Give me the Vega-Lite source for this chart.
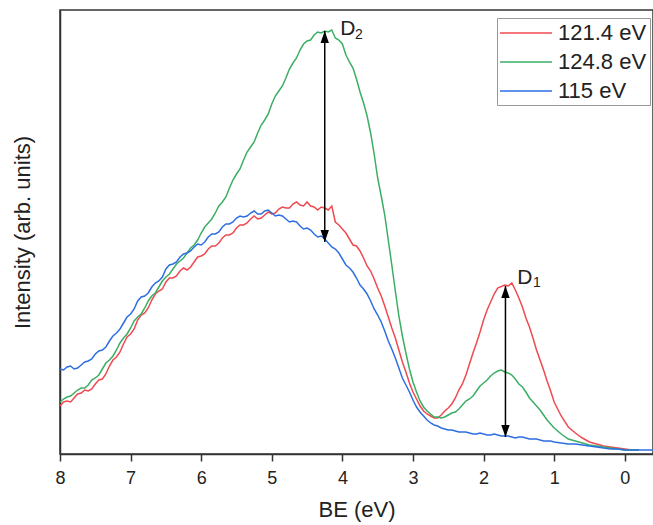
{
  "$schema": "https://vega.github.io/schema/vega-lite/v6.json",
  "width": 593,
  "height": 444,
  "autosize": "none",
  "padding": {"left": 60, "top": 10, "right": 0, "bottom": 71},
  "background": "white",
  "config": {
    "font": "Liberation Sans",
    "view": {"stroke": "#333", "strokeWidth": 1.5}
  },
  "datasets": {
    "spectra": [
      {"series":"121.4 eV","be":8.0,"intensity":48},{"series":"121.4 eV","be":7.9,"intensity":53},{"series":"121.4 eV","be":7.8,"intensity":56},{"series":"121.4 eV","be":7.7,"intensity":61},{"series":"121.4 eV","be":7.6,"intensity":63},{"series":"121.4 eV","be":7.5,"intensity":70},{"series":"121.4 eV","be":7.4,"intensity":75},{"series":"121.4 eV","be":7.3,"intensity":88},{"series":"121.4 eV","be":7.2,"intensity":97},{"series":"121.4 eV","be":7.1,"intensity":110},{"series":"121.4 eV","be":7.0,"intensity":120},{"series":"121.4 eV","be":6.9,"intensity":134},{"series":"121.4 eV","be":6.8,"intensity":141},{"series":"121.4 eV","be":6.7,"intensity":154},{"series":"121.4 eV","be":6.6,"intensity":163},{"series":"121.4 eV","be":6.5,"intensity":172},{"series":"121.4 eV","be":6.4,"intensity":176},{"series":"121.4 eV","be":6.3,"intensity":183},{"series":"121.4 eV","be":6.2,"intensity":184},{"series":"121.4 eV","be":6.1,"intensity":192},{"series":"121.4 eV","be":6.0,"intensity":198},{"series":"121.4 eV","be":5.9,"intensity":205},{"series":"121.4 eV","be":5.8,"intensity":208},{"series":"121.4 eV","be":5.7,"intensity":216},{"series":"121.4 eV","be":5.6,"intensity":219},{"series":"121.4 eV","be":5.5,"intensity":226},{"series":"121.4 eV","be":5.4,"intensity":229},{"series":"121.4 eV","be":5.3,"intensity":235},{"series":"121.4 eV","be":5.2,"intensity":235},{"series":"121.4 eV","be":5.1,"intensity":239},{"series":"121.4 eV","be":5.0,"intensity":240},{"series":"121.4 eV","be":4.9,"intensity":245},{"series":"121.4 eV","be":4.8,"intensity":246},{"series":"121.4 eV","be":4.7,"intensity":250},{"series":"121.4 eV","be":4.6,"intensity":249},{"series":"121.4 eV","be":4.5,"intensity":252},{"series":"121.4 eV","be":4.4,"intensity":247},{"series":"121.4 eV","be":4.3,"intensity":247},{"series":"121.4 eV","be":4.2,"intensity":244},{"series":"121.4 eV","be":4.15,"intensity":248},{"series":"121.4 eV","be":4.1,"intensity":232},{"series":"121.4 eV","be":4.0,"intensity":225},{"series":"121.4 eV","be":3.9,"intensity":215},{"series":"121.4 eV","be":3.8,"intensity":208},{"series":"121.4 eV","be":3.7,"intensity":196},{"series":"121.4 eV","be":3.6,"intensity":183},{"series":"121.4 eV","be":3.5,"intensity":166},{"series":"121.4 eV","be":3.4,"intensity":148},{"series":"121.4 eV","be":3.3,"intensity":126},{"series":"121.4 eV","be":3.2,"intensity":104},{"series":"121.4 eV","be":3.1,"intensity":82},{"series":"121.4 eV","be":3.0,"intensity":62},{"series":"121.4 eV","be":2.9,"intensity":48},{"series":"121.4 eV","be":2.8,"intensity":40},{"series":"121.4 eV","be":2.7,"intensity":36},{"series":"121.4 eV","be":2.6,"intensity":39},{"series":"121.4 eV","be":2.5,"intensity":46},{"series":"121.4 eV","be":2.4,"intensity":56},{"series":"121.4 eV","be":2.3,"intensity":70},{"series":"121.4 eV","be":2.2,"intensity":90},{"series":"121.4 eV","be":2.1,"intensity":111},{"series":"121.4 eV","be":2.0,"intensity":134},{"series":"121.4 eV","be":1.9,"intensity":152},{"series":"121.4 eV","be":1.8,"intensity":166},{"series":"121.4 eV","be":1.7,"intensity":169},{"series":"121.4 eV","be":1.65,"intensity":168},{"series":"121.4 eV","be":1.6,"intensity":171},{"series":"121.4 eV","be":1.55,"intensity":164},{"series":"121.4 eV","be":1.5,"intensity":156},{"series":"121.4 eV","be":1.4,"intensity":136},{"series":"121.4 eV","be":1.3,"intensity":116},{"series":"121.4 eV","be":1.2,"intensity":94},{"series":"121.4 eV","be":1.1,"intensity":73},{"series":"121.4 eV","be":1.0,"intensity":52},{"series":"121.4 eV","be":0.9,"intensity":38},{"series":"121.4 eV","be":0.8,"intensity":27},{"series":"121.4 eV","be":0.7,"intensity":21},{"series":"121.4 eV","be":0.6,"intensity":16},{"series":"121.4 eV","be":0.5,"intensity":12},{"series":"121.4 eV","be":0.4,"intensity":10},{"series":"121.4 eV","be":0.3,"intensity":8},{"series":"121.4 eV","be":0.2,"intensity":7},{"series":"121.4 eV","be":0.1,"intensity":6},{"series":"121.4 eV","be":0.0,"intensity":5},{"series":"121.4 eV","be":-0.1,"intensity":4},{"series":"121.4 eV","be":-0.2,"intensity":4},
      {"series":"121.4 eV","be":7.95,"intensity":52},{"series":"121.4 eV","be":7.85,"intensity":52},{"series":"121.4 eV","be":7.75,"intensity":60},{"series":"121.4 eV","be":7.65,"intensity":64},{"series":"121.4 eV","be":7.55,"intensity":65},{"series":"121.4 eV","be":7.45,"intensity":74},{"series":"121.4 eV","be":7.35,"intensity":80},{"series":"121.4 eV","be":7.25,"intensity":94},{"series":"121.4 eV","be":7.15,"intensity":102},{"series":"121.4 eV","be":7.05,"intensity":117},{"series":"121.4 eV","be":6.95,"intensity":125},{"series":"121.4 eV","be":6.85,"intensity":139},{"series":"121.4 eV","be":6.75,"intensity":146},{"series":"121.4 eV","be":6.65,"intensity":160},{"series":"121.4 eV","be":6.55,"intensity":165},{"series":"121.4 eV","be":6.45,"intensity":176},{"series":"121.4 eV","be":6.35,"intensity":178},{"series":"121.4 eV","be":6.25,"intensity":186},{"series":"121.4 eV","be":6.15,"intensity":187},{"series":"121.4 eV","be":6.05,"intensity":197},{"series":"121.4 eV","be":5.95,"intensity":200},{"series":"121.4 eV","be":5.85,"intensity":208},{"series":"121.4 eV","be":5.75,"intensity":211},{"series":"121.4 eV","be":5.65,"intensity":219},{"series":"121.4 eV","be":5.55,"intensity":221},{"series":"121.4 eV","be":5.45,"intensity":229},{"series":"121.4 eV","be":5.35,"intensity":231},{"series":"121.4 eV","be":5.25,"intensity":238},{"series":"121.4 eV","be":5.15,"intensity":236},{"series":"121.4 eV","be":5.05,"intensity":242},{"series":"121.4 eV","be":4.95,"intensity":241},{"series":"121.4 eV","be":4.85,"intensity":247},{"series":"121.4 eV","be":4.75,"intensity":246},{"series":"121.4 eV","be":4.65,"intensity":252},{"series":"121.4 eV","be":4.55,"intensity":248},{"series":"121.4 eV","be":4.45,"intensity":248},{"series":"121.4 eV","be":4.35,"intensity":244},{"series":"121.4 eV","be":4.25,"intensity":246},{"series":"121.4 eV","be":4.05,"intensity":229},{"series":"121.4 eV","be":3.95,"intensity":221},{"series":"121.4 eV","be":3.85,"intensity":209},{"series":"121.4 eV","be":3.75,"intensity":203},{"series":"121.4 eV","be":3.65,"intensity":188},{"series":"121.4 eV","be":3.55,"intensity":175},{"series":"121.4 eV","be":3.45,"intensity":158},{"series":"121.4 eV","be":3.35,"intensity":137},{"series":"121.4 eV","be":3.25,"intensity":116},{"series":"121.4 eV","be":3.15,"intensity":92},{"series":"121.4 eV","be":3.05,"intensity":71},{"series":"121.4 eV","be":2.95,"intensity":55},{"series":"121.4 eV","be":2.85,"intensity":43},{"series":"121.4 eV","be":2.75,"intensity":38},{"series":"121.4 eV","be":2.65,"intensity":36},{"series":"121.4 eV","be":2.55,"intensity":43},{"series":"121.4 eV","be":2.45,"intensity":50},{"series":"121.4 eV","be":2.35,"intensity":64},{"series":"121.4 eV","be":2.25,"intensity":79},{"series":"121.4 eV","be":2.15,"intensity":101},{"series":"121.4 eV","be":2.05,"intensity":122},{"series":"121.4 eV","be":1.95,"intensity":144},{"series":"121.4 eV","be":1.85,"intensity":160},{"series":"121.4 eV","be":1.45,"intensity":147},{"series":"121.4 eV","be":1.35,"intensity":127},{"series":"121.4 eV","be":1.25,"intensity":104},{"series":"121.4 eV","be":1.15,"intensity":84},{"series":"121.4 eV","be":1.05,"intensity":63},

      {"series":"124.8 eV","be":8.0,"intensity":52},{"series":"124.8 eV","be":7.9,"intensity":57},{"series":"124.8 eV","be":7.8,"intensity":61},{"series":"124.8 eV","be":7.7,"intensity":66},{"series":"124.8 eV","be":7.6,"intensity":69},{"series":"124.8 eV","be":7.5,"intensity":76},{"series":"124.8 eV","be":7.4,"intensity":85},{"series":"124.8 eV","be":7.3,"intensity":94},{"series":"124.8 eV","be":7.2,"intensity":104},{"series":"124.8 eV","be":7.1,"intensity":116},{"series":"124.8 eV","be":7.0,"intensity":126},{"series":"124.8 eV","be":6.9,"intensity":137},{"series":"124.8 eV","be":6.8,"intensity":146},{"series":"124.8 eV","be":6.7,"intensity":158},{"series":"124.8 eV","be":6.6,"intensity":167},{"series":"124.8 eV","be":6.5,"intensity":177},{"series":"124.8 eV","be":6.4,"intensity":185},{"series":"124.8 eV","be":6.3,"intensity":193},{"series":"124.8 eV","be":6.2,"intensity":201},{"series":"124.8 eV","be":6.1,"intensity":209},{"series":"124.8 eV","be":6.0,"intensity":221},{"series":"124.8 eV","be":5.9,"intensity":231},{"series":"124.8 eV","be":5.8,"intensity":241},{"series":"124.8 eV","be":5.7,"intensity":252},{"series":"124.8 eV","be":5.6,"intensity":266},{"series":"124.8 eV","be":5.5,"intensity":280},{"series":"124.8 eV","be":5.4,"intensity":294},{"series":"124.8 eV","be":5.3,"intensity":307},{"series":"124.8 eV","be":5.2,"intensity":321},{"series":"124.8 eV","be":5.1,"intensity":334},{"series":"124.8 eV","be":5.0,"intensity":350},{"series":"124.8 eV","be":4.9,"intensity":363},{"series":"124.8 eV","be":4.8,"intensity":376},{"series":"124.8 eV","be":4.7,"intensity":391},{"series":"124.8 eV","be":4.6,"intensity":404},{"series":"124.8 eV","be":4.5,"intensity":413},{"series":"124.8 eV","be":4.4,"intensity":419},{"series":"124.8 eV","be":4.3,"intensity":421},{"series":"124.8 eV","be":4.25,"intensity":423},{"series":"124.8 eV","be":4.2,"intensity":422},{"series":"124.8 eV","be":4.15,"intensity":424},{"series":"124.8 eV","be":4.1,"intensity":416},{"series":"124.8 eV","be":4.0,"intensity":410},{"series":"124.8 eV","be":3.9,"intensity":392},{"series":"124.8 eV","be":3.8,"intensity":375},{"series":"124.8 eV","be":3.7,"intensity":351},{"series":"124.8 eV","be":3.6,"intensity":321},{"series":"124.8 eV","be":3.5,"intensity":276},{"series":"124.8 eV","be":3.4,"intensity":239},{"series":"124.8 eV","be":3.3,"intensity":189},{"series":"124.8 eV","be":3.2,"intensity":138},{"series":"124.8 eV","be":3.1,"intensity":101},{"series":"124.8 eV","be":3.0,"intensity":72},{"series":"124.8 eV","be":2.9,"intensity":53},{"series":"124.8 eV","be":2.8,"intensity":43},{"series":"124.8 eV","be":2.7,"intensity":37},{"series":"124.8 eV","be":2.6,"intensity":36},{"series":"124.8 eV","be":2.5,"intensity":39},{"series":"124.8 eV","be":2.4,"intensity":42},{"series":"124.8 eV","be":2.3,"intensity":49},{"series":"124.8 eV","be":2.2,"intensity":55},{"series":"124.8 eV","be":2.1,"intensity":63},{"series":"124.8 eV","be":2.0,"intensity":71},{"series":"124.8 eV","be":1.9,"intensity":78},{"series":"124.8 eV","be":1.8,"intensity":83},{"series":"124.8 eV","be":1.75,"intensity":84},{"series":"124.8 eV","be":1.7,"intensity":82},{"series":"124.8 eV","be":1.6,"intensity":79},{"series":"124.8 eV","be":1.5,"intensity":70},{"series":"124.8 eV","be":1.4,"intensity":62},{"series":"124.8 eV","be":1.3,"intensity":52},{"series":"124.8 eV","be":1.2,"intensity":44},{"series":"124.8 eV","be":1.1,"intensity":34},{"series":"124.8 eV","be":1.0,"intensity":26},{"series":"124.8 eV","be":0.9,"intensity":20},{"series":"124.8 eV","be":0.8,"intensity":15},{"series":"124.8 eV","be":0.7,"intensity":13},{"series":"124.8 eV","be":0.6,"intensity":11},{"series":"124.8 eV","be":0.5,"intensity":9},{"series":"124.8 eV","be":0.4,"intensity":8},{"series":"124.8 eV","be":0.3,"intensity":7},{"series":"124.8 eV","be":0.2,"intensity":6},{"series":"124.8 eV","be":0.1,"intensity":5},{"series":"124.8 eV","be":0.0,"intensity":4},{"series":"124.8 eV","be":-0.1,"intensity":4},{"series":"124.8 eV","be":-0.2,"intensity":4},
      {"series":"124.8 eV","be":7.95,"intensity":55},{"series":"124.8 eV","be":7.85,"intensity":58},{"series":"124.8 eV","be":7.75,"intensity":64},{"series":"124.8 eV","be":7.65,"intensity":66},{"series":"124.8 eV","be":7.55,"intensity":74},{"series":"124.8 eV","be":7.45,"intensity":79},{"series":"124.8 eV","be":7.35,"intensity":91},{"series":"124.8 eV","be":7.25,"intensity":98},{"series":"124.8 eV","be":7.15,"intensity":111},{"series":"124.8 eV","be":7.05,"intensity":120},{"series":"124.8 eV","be":6.95,"intensity":133},{"series":"124.8 eV","be":6.85,"intensity":140},{"series":"124.8 eV","be":6.75,"intensity":153},{"series":"124.8 eV","be":6.65,"intensity":161},{"series":"124.8 eV","be":6.55,"intensity":173},{"series":"124.8 eV","be":6.45,"intensity":180},{"series":"124.8 eV","be":6.35,"intensity":190},{"series":"124.8 eV","be":6.25,"intensity":196},{"series":"124.8 eV","be":6.15,"intensity":206},{"series":"124.8 eV","be":6.05,"intensity":214},{"series":"124.8 eV","be":5.95,"intensity":227},{"series":"124.8 eV","be":5.85,"intensity":235},{"series":"124.8 eV","be":5.75,"intensity":248},{"series":"124.8 eV","be":5.65,"intensity":257},{"series":"124.8 eV","be":5.55,"intensity":274},{"series":"124.8 eV","be":5.45,"intensity":285},{"series":"124.8 eV","be":5.35,"intensity":302},{"series":"124.8 eV","be":5.25,"intensity":312},{"series":"124.8 eV","be":5.15,"intensity":329},{"series":"124.8 eV","be":5.05,"intensity":340},{"series":"124.8 eV","be":4.95,"intensity":358},{"series":"124.8 eV","be":4.85,"intensity":368},{"series":"124.8 eV","be":4.75,"intensity":385},{"series":"124.8 eV","be":4.65,"intensity":396},{"series":"124.8 eV","be":4.55,"intensity":410},{"series":"124.8 eV","be":4.45,"intensity":414},{"series":"124.8 eV","be":4.35,"intensity":422},{"series":"124.8 eV","be":4.05,"intensity":414},{"series":"124.8 eV","be":3.95,"intensity":399},{"series":"124.8 eV","be":3.85,"intensity":386},{"series":"124.8 eV","be":3.75,"intensity":362},{"series":"124.8 eV","be":3.65,"intensity":338},{"series":"124.8 eV","be":3.55,"intensity":300},{"series":"124.8 eV","be":3.45,"intensity":258},{"series":"124.8 eV","be":3.35,"intensity":214},{"series":"124.8 eV","be":3.25,"intensity":163},{"series":"124.8 eV","be":3.15,"intensity":118},{"series":"124.8 eV","be":3.05,"intensity":85},{"series":"124.8 eV","be":2.95,"intensity":62},{"series":"124.8 eV","be":2.85,"intensity":47},{"series":"124.8 eV","be":2.75,"intensity":40},{"series":"124.8 eV","be":2.65,"intensity":37},{"series":"124.8 eV","be":2.55,"intensity":37},{"series":"124.8 eV","be":2.45,"intensity":41},{"series":"124.8 eV","be":2.35,"intensity":45},{"series":"124.8 eV","be":2.25,"intensity":53},{"series":"124.8 eV","be":2.15,"intensity":58},{"series":"124.8 eV","be":2.05,"intensity":68},{"series":"124.8 eV","be":1.95,"intensity":74},{"series":"124.8 eV","be":1.85,"intensity":81},{"series":"124.8 eV","be":1.65,"intensity":81},{"series":"124.8 eV","be":1.55,"intensity":75},{"series":"124.8 eV","be":1.45,"intensity":67},{"series":"124.8 eV","be":1.35,"intensity":56},{"series":"124.8 eV","be":1.25,"intensity":48},{"series":"124.8 eV","be":1.15,"intensity":39},{"series":"124.8 eV","be":1.05,"intensity":30},

      {"series":"115 eV","be":8.0,"intensity":85},{"series":"115 eV","be":7.9,"intensity":87},{"series":"115 eV","be":7.8,"intensity":85},{"series":"115 eV","be":7.7,"intensity":89},{"series":"115 eV","be":7.6,"intensity":93},{"series":"115 eV","be":7.5,"intensity":100},{"series":"115 eV","be":7.4,"intensity":104},{"series":"115 eV","be":7.3,"intensity":113},{"series":"115 eV","be":7.2,"intensity":121},{"series":"115 eV","be":7.1,"intensity":131},{"series":"115 eV","be":7.0,"intensity":140},{"series":"115 eV","be":6.9,"intensity":153},{"series":"115 eV","be":6.8,"intensity":158},{"series":"115 eV","be":6.7,"intensity":167},{"series":"115 eV","be":6.6,"intensity":173},{"series":"115 eV","be":6.5,"intensity":185},{"series":"115 eV","be":6.4,"intensity":190},{"series":"115 eV","be":6.3,"intensity":197},{"series":"115 eV","be":6.2,"intensity":201},{"series":"115 eV","be":6.1,"intensity":207},{"series":"115 eV","be":6.0,"intensity":209},{"series":"115 eV","be":5.9,"intensity":217},{"series":"115 eV","be":5.8,"intensity":220},{"series":"115 eV","be":5.7,"intensity":227},{"series":"115 eV","be":5.6,"intensity":230},{"series":"115 eV","be":5.5,"intensity":236},{"series":"115 eV","be":5.4,"intensity":237},{"series":"115 eV","be":5.3,"intensity":241},{"series":"115 eV","be":5.2,"intensity":240},{"series":"115 eV","be":5.1,"intensity":243},{"series":"115 eV","be":5.0,"intensity":241},{"series":"115 eV","be":4.9,"intensity":239},{"series":"115 eV","be":4.8,"intensity":235},{"series":"115 eV","be":4.7,"intensity":233},{"series":"115 eV","be":4.6,"intensity":228},{"series":"115 eV","be":4.5,"intensity":226},{"series":"115 eV","be":4.4,"intensity":220},{"series":"115 eV","be":4.3,"intensity":218},{"series":"115 eV","be":4.2,"intensity":211},{"series":"115 eV","be":4.1,"intensity":205},{"series":"115 eV","be":4.0,"intensity":195},{"series":"115 eV","be":3.9,"intensity":186},{"series":"115 eV","be":3.8,"intensity":176},{"series":"115 eV","be":3.7,"intensity":165},{"series":"115 eV","be":3.6,"intensity":153},{"series":"115 eV","be":3.5,"intensity":139},{"series":"115 eV","be":3.4,"intensity":123},{"series":"115 eV","be":3.3,"intensity":105},{"series":"115 eV","be":3.2,"intensity":86},{"series":"115 eV","be":3.1,"intensity":69},{"series":"115 eV","be":3.0,"intensity":54},{"series":"115 eV","be":2.9,"intensity":42},{"series":"115 eV","be":2.8,"intensity":34},{"series":"115 eV","be":2.7,"intensity":29},{"series":"115 eV","be":2.6,"intensity":26},{"series":"115 eV","be":2.5,"intensity":24},{"series":"115 eV","be":2.4,"intensity":23},{"series":"115 eV","be":2.3,"intensity":22},{"series":"115 eV","be":2.2,"intensity":21},{"series":"115 eV","be":2.1,"intensity":20},{"series":"115 eV","be":2.0,"intensity":20},{"series":"115 eV","be":1.9,"intensity":19},{"series":"115 eV","be":1.8,"intensity":19},{"series":"115 eV","be":1.7,"intensity":18},{"series":"115 eV","be":1.6,"intensity":17},{"series":"115 eV","be":1.5,"intensity":17},{"series":"115 eV","be":1.4,"intensity":16},{"series":"115 eV","be":1.3,"intensity":15},{"series":"115 eV","be":1.2,"intensity":14},{"series":"115 eV","be":1.1,"intensity":13},{"series":"115 eV","be":1.0,"intensity":12},{"series":"115 eV","be":0.9,"intensity":11},{"series":"115 eV","be":0.8,"intensity":10},{"series":"115 eV","be":0.7,"intensity":10},{"series":"115 eV","be":0.6,"intensity":9},{"series":"115 eV","be":0.5,"intensity":8},{"series":"115 eV","be":0.4,"intensity":7},{"series":"115 eV","be":0.3,"intensity":6},{"series":"115 eV","be":0.2,"intensity":5},{"series":"115 eV","be":0.1,"intensity":5},{"series":"115 eV","be":0.0,"intensity":4},{"series":"115 eV","be":-0.1,"intensity":4},{"series":"115 eV","be":-0.2,"intensity":4},{"series":"115 eV","be":-0.3,"intensity":4},{"series":"115 eV","be":-0.4,"intensity":4},
      {"series":"115 eV","be":7.95,"intensity":84},{"series":"115 eV","be":7.85,"intensity":88},{"series":"115 eV","be":7.75,"intensity":86},{"series":"115 eV","be":7.65,"intensity":92},{"series":"115 eV","be":7.55,"intensity":95},{"series":"115 eV","be":7.45,"intensity":103},{"series":"115 eV","be":7.35,"intensity":107},{"series":"115 eV","be":7.25,"intensity":118},{"series":"115 eV","be":7.15,"intensity":125},{"series":"115 eV","be":7.05,"intensity":137},{"series":"115 eV","be":6.95,"intensity":145},{"series":"115 eV","be":6.85,"intensity":157},{"series":"115 eV","be":6.75,"intensity":161},{"series":"115 eV","be":6.65,"intensity":171},{"series":"115 eV","be":6.55,"intensity":177},{"series":"115 eV","be":6.45,"intensity":189},{"series":"115 eV","be":6.35,"intensity":192},{"series":"115 eV","be":6.25,"intensity":200},{"series":"115 eV","be":6.15,"intensity":203},{"series":"115 eV","be":6.05,"intensity":210},{"series":"115 eV","be":5.95,"intensity":212},{"series":"115 eV","be":5.85,"intensity":220},{"series":"115 eV","be":5.75,"intensity":222},{"series":"115 eV","be":5.65,"intensity":230},{"series":"115 eV","be":5.55,"intensity":232},{"series":"115 eV","be":5.45,"intensity":238},{"series":"115 eV","be":5.35,"intensity":238},{"series":"115 eV","be":5.25,"intensity":243},{"series":"115 eV","be":5.15,"intensity":240},{"series":"115 eV","be":5.05,"intensity":244},{"series":"115 eV","be":4.95,"intensity":238},{"series":"115 eV","be":4.85,"intensity":238},{"series":"115 eV","be":4.75,"intensity":232},{"series":"115 eV","be":4.65,"intensity":232},{"series":"115 eV","be":4.55,"intensity":225},{"series":"115 eV","be":4.45,"intensity":224},{"series":"115 eV","be":4.35,"intensity":217},{"series":"115 eV","be":4.25,"intensity":215},{"series":"115 eV","be":4.15,"intensity":207},{"series":"115 eV","be":4.05,"intensity":201},{"series":"115 eV","be":3.95,"intensity":189},{"series":"115 eV","be":3.85,"intensity":182},{"series":"115 eV","be":3.75,"intensity":169},{"series":"115 eV","be":3.65,"intensity":160},{"series":"115 eV","be":3.55,"intensity":145},{"series":"115 eV","be":3.45,"intensity":132},{"series":"115 eV","be":3.35,"intensity":113},{"series":"115 eV","be":3.25,"intensity":96},{"series":"115 eV","be":3.15,"intensity":76},{"series":"115 eV","be":3.05,"intensity":62},{"series":"115 eV","be":2.95,"intensity":47},{"series":"115 eV","be":2.85,"intensity":38},{"series":"115 eV","be":2.75,"intensity":31},{"series":"115 eV","be":2.65,"intensity":28},{"series":"115 eV","be":2.55,"intensity":25},{"series":"115 eV","be":2.45,"intensity":24},{"series":"115 eV","be":2.35,"intensity":22},{"series":"115 eV","be":2.25,"intensity":22},{"series":"115 eV","be":2.15,"intensity":20},{"series":"115 eV","be":2.05,"intensity":21},{"series":"115 eV","be":1.95,"intensity":19},{"series":"115 eV","be":1.85,"intensity":20},{"series":"115 eV","be":1.75,"intensity":18},{"series":"115 eV","be":1.65,"intensity":18},{"series":"115 eV","be":1.55,"intensity":16},{"series":"115 eV","be":1.45,"intensity":17},{"series":"115 eV","be":1.35,"intensity":15},{"series":"115 eV","be":1.25,"intensity":15},{"series":"115 eV","be":1.15,"intensity":13},{"series":"115 eV","be":1.05,"intensity":13}
    ],
    "arrows": [
      {"be": 4.25, "top": 423, "bottom": 212},
      {"be": 1.69, "top": 168, "bottom": 17}
    ],
    "heads": [
      {"be": 4.25, "intensity": 423, "dir": "up"},
      {"be": 4.25, "intensity": 212, "dir": "down"},
      {"be": 1.69, "intensity": 168, "dir": "up"},
      {"be": 1.69, "intensity": 17, "dir": "down"}
    ],
    "letters": [
      {"be": 4.03, "intensity": 419, "text": "D"},
      {"be": 1.524, "intensity": 170, "text": "D"}
    ],
    "subs": [
      {"be": 3.82, "intensity": 415, "text": "2"},
      {"be": 1.30, "intensity": 167, "text": "1"}
    ]
  },
  "layer": [
    {
      "data": {"name": "spectra"},
      "mark": {"type": "line", "strokeWidth": 1.5},
      "encoding": {
        "x": {
          "field": "be", "type": "quantitative",
          "scale": {"domain": [-0.4, 8], "reverse": true, "nice": false, "zero": false},
          "axis": {
            "title": "BE (eV)", "titleFontSize": 22, "titleFontWeight": "normal", "titleColor": "#222", "titlePadding": 12,
            "values": [8, 7.5, 7, 6.5, 6, 5.5, 5, 4.5, 4, 3.5, 3, 2.5, 2, 1.5, 1, 0.5, 0],
            "labelExpr": "datum.value % 1 !== 0 ? '' : format(datum.value, 'd')",
            "labelFontSize": 18, "labelColor": "#222", "labelPadding": 8, "labelFlush": false, "labelOverlap": false,
            "tickSize": {"condition": {"test": "datum.value % 1 !== 0", "value": 4}, "value": 7},
            "tickWidth": 1.5, "tickColor": "#333", "domainColor": "#333", "domainWidth": 1.5, "grid": false
          }
        },
        "y": {
          "field": "intensity", "type": "quantitative",
          "scale": {"domain": [0, 444], "nice": false},
          "axis": {
            "title": "Intensity (arb. units)", "titleFontSize": 22, "titleFontWeight": "normal", "titleColor": "#222", "titlePadding": 26,
            "labels": false, "ticks": false, "grid": false, "domainColor": "#333", "domainWidth": 1.5
          }
        },
        "color": {
          "field": "series", "type": "nominal",
          "scale": {"domain": ["121.4 eV", "124.8 eV", "115 eV"], "range": ["#EF4A4F", "#3BAE64", "#2D6FE3"]},
          "legend": {
            "title": null, "orient": "none", "legendX": 437, "legendY": 8,
            "symbolType": "M-2.36,0L2.36,0", "symbolSize": 484, "symbolStrokeWidth": 1.5, "symbolOffset": 14,
            "labelOffset": 20, "labelFontSize": 22, "labelColor": "#222", "labelFont": "Liberation Sans",
            "padding": 3, "rowPadding": 6, "strokeColor": "#999", "fillColor": "white"
          }
        }
      }
    },
    {
      "data": {"name": "arrows"},
      "mark": {"type": "rule", "color": "black", "strokeWidth": 1.5},
      "encoding": {
        "x": {"field": "be", "type": "quantitative"},
        "y": {"field": "top", "type": "quantitative"},
        "y2": {"field": "bottom"}
      }
    },
    {
      "data": {"name": "heads"},
      "mark": {"type": "point", "filled": true, "color": "black", "size": 576, "opacity": 1},
      "encoding": {
        "x": {"field": "be", "type": "quantitative"},
        "y": {"field": "intensity", "type": "quantitative"},
        "shape": {"field": "dir", "type": "nominal", "scale": {"domain": ["up", "down"], "range": ["M0,0L0.35,1L-0.35,1Z", "M0,0L0.35,-1L-0.35,-1Z"]}, "legend": null}
      }
    },
    {
      "data": {"name": "letters"},
      "mark": {"type": "text", "align": "left", "baseline": "alphabetic", "fontSize": 21, "color": "#222", "font": "Liberation Sans"},
      "encoding": {
        "x": {"field": "be", "type": "quantitative"},
        "y": {"field": "intensity", "type": "quantitative"},
        "text": {"field": "text"}
      }
    },
    {
      "data": {"name": "subs"},
      "mark": {"type": "text", "align": "left", "baseline": "alphabetic", "fontSize": 14, "color": "#222", "font": "Liberation Sans"},
      "encoding": {
        "x": {"field": "be", "type": "quantitative"},
        "y": {"field": "intensity", "type": "quantitative"},
        "text": {"field": "text"}
      }
    }
  ]
}
